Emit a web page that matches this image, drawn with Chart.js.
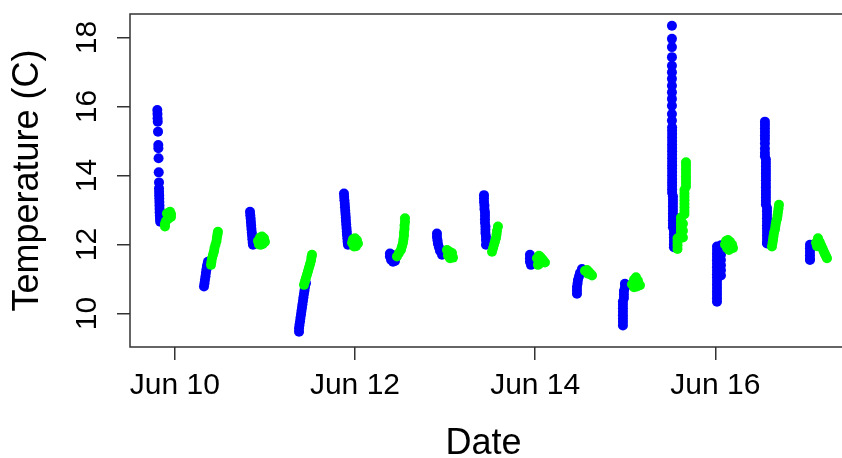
<!DOCTYPE html>
<html>
<head>
<meta charset="utf-8">
<script src="https://cdn.jsdelivr.net/npm/chart.js@4"></script>
<style>
  body { margin: 0; background: #fff; }
  #wrap { width: 842px; height: 458px; }
</style>
</head>
<body>
<div id="wrap"><canvas id="tempChart"></canvas></div>
<script>
// tick positions (day of June, temperature in C)
const xTicks = [10, 12, 14, 16];
const yTicks = [10, 12, 14, 16, 18];

// [day of June, temperature], one line per tide
const bluePoints = [
  [9.806,15.90],[9.808,15.78],[9.809,15.66],[9.811,15.56],[9.814,15.27],[9.817,14.88],[9.818,14.79],[9.820,14.50],[9.822,14.09],[9.825,13.80],[9.825,13.63],[9.826,13.53],[9.827,13.43],[9.828,13.33],[9.829,13.23],[9.830,13.13],[9.831,13.03],[9.832,12.93],[9.834,12.83],[9.836,12.74],[9.838,12.66],
  [10.324,10.78],[10.330,10.88],[10.335,10.98],[10.341,11.08],[10.346,11.18],[10.352,11.28],[10.357,11.38],[10.368,11.50],
  [10.835,12.95],[10.838,12.85],[10.842,12.75],[10.845,12.65],[10.848,12.55],[10.851,12.45],[10.855,12.35],[10.858,12.25],[10.861,12.15],[10.865,12.05],[10.868,11.99],
  [11.379,9.47],[11.379,9.57],[11.384,9.67],[11.390,9.77],[11.395,9.87],[11.401,9.97],[11.406,10.07],[11.412,10.17],[11.417,10.27],[11.423,10.37],[11.428,10.47],[11.434,10.57],[11.440,10.67],[11.445,10.77],[11.456,10.88],
  [11.878,13.48],[11.880,13.38],[11.883,13.28],[11.887,13.18],[11.889,13.08],[11.892,12.98],[11.895,12.88],[11.898,12.78],[11.900,12.68],[11.903,12.58],[11.906,12.48],[11.909,12.38],[11.911,12.28],[11.915,12.18],[11.918,12.08],[11.922,11.99],
  [12.388,11.74],[12.388,11.65],[12.400,11.56],[12.422,11.50],[12.444,11.52],[12.411,11.70],
  [12.910,12.32],[12.910,12.22],[12.916,12.12],[12.921,12.02],[12.932,11.92],[12.943,11.82],[12.966,11.70],
  [13.432,13.43],[13.432,13.33],[13.432,13.23],[13.437,13.13],[13.437,13.03],[13.443,12.93],[13.443,12.83],[13.443,12.73],[13.443,12.63],[13.448,12.53],[13.448,12.43],[13.448,12.33],[13.454,12.23],[13.454,12.13],[13.454,11.99],
  [13.942,11.70],[13.942,11.60],[13.942,11.50],[13.953,11.41],
  [14.464,10.57],[14.464,10.67],[14.464,10.77],[14.470,10.87],[14.475,10.97],[14.486,11.07],[14.497,11.17],[14.519,11.29],
  [14.974,9.65],[14.974,9.75],[14.974,9.85],[14.974,9.95],[14.974,10.05],[14.974,10.15],[14.974,10.25],[14.974,10.35],[14.985,10.45],[14.985,10.55],[14.985,10.65],[14.996,10.75],[14.996,10.86],
  [15.518,18.34],[15.518,17.96],[15.518,17.72],[15.518,17.43],[15.518,17.18],[15.518,16.99],[15.518,16.80],[15.518,16.60],[15.518,16.41],[15.518,16.22],[15.518,16.02],[15.518,15.78],[15.518,15.59],
  [15.520,15.40],[15.520,15.30],[15.520,15.20],[15.520,15.10],[15.520,15.00],[15.520,14.90],[15.520,14.80],[15.520,14.70],[15.520,14.60],[15.520,14.50],
  [15.520,14.40],[15.520,14.30],[15.520,14.20],[15.520,14.10],[15.520,14.00],[15.520,13.90],[15.520,13.80],[15.520,13.70],[15.520,13.60],[15.520,13.50],
  [15.529,13.40],[15.529,13.30],[15.529,13.20],[15.529,13.10],[15.529,13.00],[15.529,12.90],[15.529,12.80],[15.529,12.70],[15.529,12.60],[15.529,12.50],
  [15.540,12.40],[15.540,12.30],[15.540,12.20],[15.540,12.10],[15.540,12.00],[15.540,11.92],
  [16.018,10.34],[16.018,10.44],[16.018,10.54],[16.018,10.64],[16.018,10.74],[16.018,10.84],[16.018,10.94],[16.018,11.04],[16.018,11.14],[16.018,11.24],[16.018,11.34],[16.018,11.44],[16.018,11.54],[16.018,11.64],[16.018,11.74],[16.018,11.84],[16.018,11.94],
  [16.062,11.10],[16.062,11.25],[16.062,11.40],[16.062,11.55],[16.062,11.70],[16.062,11.85],[16.062,11.98],
  [16.550,15.56],[16.550,15.46],[16.550,15.36],[16.550,15.26],[16.550,15.16],[16.550,15.06],[16.550,14.93],[16.550,14.78],[16.550,14.66],[16.550,14.56],
  [16.561,14.46],[16.561,14.36],[16.561,14.26],[16.561,14.16],[16.561,14.06],[16.561,13.96],[16.561,13.86],[16.561,13.76],[16.561,13.66],[16.561,13.56],[16.561,13.46],[16.561,13.36],[16.561,13.26],[16.561,13.16],
  [16.573,13.06],[16.573,12.96],[16.573,12.86],[16.573,12.76],[16.573,12.66],[16.573,12.56],[16.573,12.46],[16.573,12.36],[16.573,12.26],[16.573,12.16],[16.573,12.06],[16.573,12.03],
  [17.050,11.99],[17.050,11.89],[17.050,11.79],[17.050,11.69],[17.050,11.59],[17.050,11.55],[17.072,11.95]
];

const greenPoints = [
  [9.947,12.95],[9.958,12.88],[9.947,12.80],[9.925,12.74],[9.902,12.68],[9.891,12.60],[9.891,12.52],[9.913,12.90],[9.936,12.85],[9.958,12.80],
  [10.402,11.41],[10.407,11.50],[10.413,11.60],[10.424,11.70],[10.435,11.80],[10.441,11.90],[10.452,12.00],[10.463,12.10],[10.468,12.20],[10.474,12.30],[10.479,12.37],
  [10.923,12.10],[10.934,12.00],[10.957,11.99],[10.979,12.02],[11.001,12.08],[10.990,12.18],[10.968,12.23],[10.946,12.20],[10.957,12.10],[10.979,12.12],
  [11.434,10.83],[11.445,10.93],[11.456,11.03],[11.468,11.13],[11.479,11.23],[11.490,11.33],[11.501,11.43],[11.512,11.53],[11.517,11.63],[11.523,11.70],
  [11.967,12.05],[11.978,12.15],[12.000,12.18],[12.022,12.12],[12.033,12.03],[12.011,11.95],[11.989,11.94],[12.000,12.06],
  [12.466,11.65],[12.488,11.75],[12.511,11.85],[12.522,11.95],[12.533,12.05],[12.538,12.15],[12.544,12.25],[12.544,12.35],[12.550,12.45],[12.550,12.55],[12.555,12.65],[12.555,12.76],
  [13.021,11.84],[13.044,11.80],[13.066,11.70],[13.088,11.62],[13.055,11.60],[13.032,11.68],[13.077,11.75],
  [13.521,11.79],[13.532,11.89],[13.543,11.99],[13.554,12.09],[13.565,12.19],[13.571,12.29],[13.576,12.39],[13.587,12.52],
  [14.020,11.60],[14.042,11.67],[14.064,11.62],[14.087,11.55],[14.109,11.48],[14.053,11.45],[14.031,11.41],[14.075,11.50],
  [14.553,11.24],[14.575,11.26],[14.597,11.20],[14.620,11.14],[14.631,11.10],[14.586,11.15],
  [15.074,10.85],[15.097,10.98],[15.119,11.05],[15.141,10.95],[15.163,10.82],[15.130,10.78],[15.097,10.76],[15.119,10.90],
  [15.674,14.38],[15.674,14.28],[15.674,14.18],[15.674,14.08],[15.674,13.98],[15.674,13.88],[15.674,13.78],[15.674,13.68],
  [15.657,13.58],[15.657,13.48],[15.657,13.38],[15.657,13.28],[15.657,13.18],[15.657,13.08],[15.657,12.98],[15.657,12.88],
  [15.618,12.78],[15.618,12.68],[15.618,12.58],[15.618,12.48],[15.618,12.38],[15.618,12.28],
  [15.580,12.18],[15.580,12.08],[15.580,11.98],[15.580,11.87],
  [15.640,12.20],[15.640,12.40],[15.640,12.60],
  [16.107,12.00],[16.118,12.10],[16.140,12.13],[16.162,12.08],[16.185,12.00],[16.196,11.90],[16.151,11.84],[16.129,11.90],[16.162,11.95],
  [16.628,11.94],[16.634,12.04],[16.640,12.14],[16.645,12.24],[16.651,12.34],[16.662,12.44],[16.667,12.54],[16.673,12.64],[16.684,12.74],[16.690,12.84],[16.695,12.94],[16.701,13.04],[16.706,13.15],
  [17.139,12.18],[17.150,12.10],[17.161,12.05],[17.172,11.98],[17.183,11.92],[17.195,11.85],[17.206,11.78],[17.217,11.72],[17.228,11.66],[17.239,11.60],[17.117,12.05],[17.128,11.95]
];

const axisColor = '#333';
const fontFamily = '"Liberation Sans", Arial, sans-serif';

// R style frame: left, top and bottom sides (right side runs off the picture)
const boxPlugin = {
  id: 'box',
  afterDraw(chart) {
    const { ctx, chartArea: a } = chart;
    ctx.save();
    ctx.strokeStyle = axisColor;
    ctx.lineWidth = 1.5;
    ctx.beginPath();
    ctx.moveTo(chart.width, a.top);
    ctx.lineTo(a.left, a.top);
    ctx.lineTo(a.left, a.bottom);
    ctx.lineTo(chart.width, a.bottom);
    ctx.stroke();
    ctx.restore();
  }
};

const ctx = document.getElementById('tempChart').getContext('2d');
new Chart(ctx, {
  type: 'scatter',
  data: {
    datasets: [
      {
        label: 'green',
        data: greenPoints.map(p => ({ x: p[0], y: p[1] })),
        backgroundColor: '#00FF00',
        borderColor: '#00FF00',
        pointRadius: 5,
        pointBorderWidth: 0,
        order: 0
      },
      {
        label: 'blue',
        data: bluePoints.map(p => ({ x: p[0], y: p[1] })),
        backgroundColor: '#0000FF',
        borderColor: '#0000FF',
        pointRadius: 5,
        pointBorderWidth: 0,
        order: 1
      }
    ]
  },
  options: {
    responsive: true,
    maintainAspectRatio: false,
    animation: false,
    layout: { padding: { top: 14, right: 0, left: 0, bottom: 0 } },
    plugins: { legend: { display: false }, tooltip: { enabled: false } },
    scales: {
      x: {
        type: 'linear',
        min: 9.503,
        max: 17.350,
        afterBuildTicks: s => { s.ticks = xTicks.map(v => ({ value: v })); },
        afterFit: s => { s.height = 111; s.paddingLeft = 0; s.paddingRight = 0; },
        grid: { drawOnChartArea: false, drawTicks: true, tickLength: 13, color: axisColor, lineWidth: 1.5 },
        border: { display: false },
        ticks: {
          color: '#000',
          font: { family: fontFamily, size: 30, lineHeight: 1 },
          padding: 11,
          maxRotation: 0,
          callback: v => 'Jun ' + v
        },
        title: {
          display: true,
          text: 'Date',
          color: '#000',
          font: { family: fontFamily, size: 36, lineHeight: 0.75 },
          padding: { top: 0, bottom: 0 }
        }
      },
      y: {
        min: 9.029,
        max: 18.68,
        afterBuildTicks: s => { s.ticks = yTicks.map(v => ({ value: v })); },
        afterFit: s => { s.width = 130; s.paddingTop = 0; s.paddingBottom = 0; },
        grid: { drawOnChartArea: false, drawTicks: true, tickLength: 13, color: axisColor, lineWidth: 1.5 },
        border: { display: false },
        ticks: {
          color: '#000',
          font: { family: fontFamily, size: 30, lineHeight: 1 },
          padding: 13,
          minRotation: 90,
          maxRotation: 90,
          crossAlign: 'center'
        },
        title: {
          display: true,
          text: 'Temperature (C)',
          color: '#000',
          font: { family: fontFamily, size: 36, lineHeight: 1 },
          padding: { top: 10, bottom: 0 }
        }
      }
    }
  },
  plugins: [boxPlugin]
});
</script>
</body>
</html>
